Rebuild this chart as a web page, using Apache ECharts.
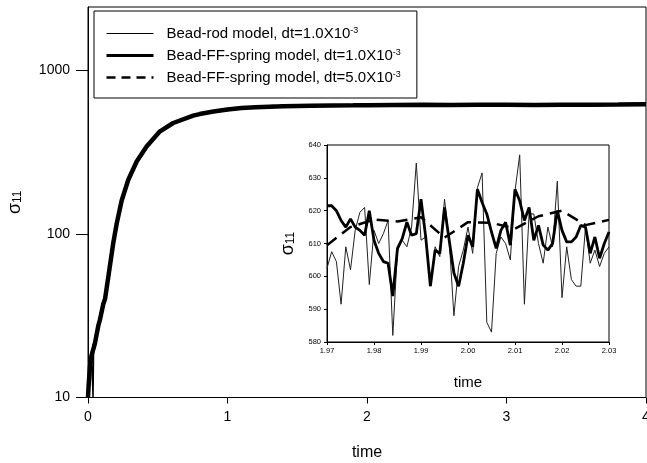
<!DOCTYPE html>
<html>
<head>
<meta charset="utf-8">
<script src="https://cdn.jsdelivr.net/npm/echarts@6/dist/echarts.min.js"></script>
<style>
  html, body { margin: 0; padding: 0; background: #fff; }
  #chart { width: 647px; height: 463px; }
</style>
</head>
<body>
<div id="chart"></div>
<script>
// series names (legend text)
var seriesNames = [
  'Bead-rod model, dt=1.0X10-3',
  'Bead-FF-spring model, dt=1.0X10-3',
  'Bead-FF-spring model, dt=5.0X10-3'
]

// main plot: time vs sigma11 (log axis)
var mainTime = [0, 0.005, 0.014, 0.025, 0.032, 0.036, 0.04, 0.05, 0.074, 0.086, 0.11, 0.122, 0.146, 0.181, 0.205, 0.241,
  0.289, 0.349, 0.42, 0.516, 0.611, 0.754, 0.8, 0.9, 1.0, 1.1, 1.2, 1.3, 1.4, 1.5, 1.6, 1.75,
  1.9, 2.0, 2.2, 2.4, 2.6, 2.8, 3.0, 3.2, 3.4, 3.6, 3.8, 4.0]
var mainRod = [10, 13, 16, 17, 13, 10, 19, 22, 28, 31, 38, 41, 56, 87, 116, 158,
  217, 276, 345, 423, 480, 528, 545, 560, 580, 588, 598, 604, 605, 610, 609, 613,
  612, 615, 616, 619, 616, 620, 617, 618, 618, 619, 619, 624]
var mainFF1 = [10, 12, 15.4, 18, 19, 19.3, 20, 21.5, 27.5, 30, 37.5, 40, 55, 88, 115, 160,
  215, 278, 343, 425, 478, 530, 542, 562, 578, 590, 597, 602, 606, 608, 610, 612,
  613, 614, 617, 618, 617, 619, 618, 617, 619, 618, 620, 623]
var mainFF5 = [10, 12.5, 15, 18, 19, 19.5, 20.5, 21, 27, 30.5, 37, 40.5, 54, 89, 114, 161,
  214, 279, 341, 426, 476, 532, 540, 563, 577, 591, 596, 603, 607, 607, 611, 611,
  614, 613, 618, 617, 618, 618, 619, 616, 620, 617, 621, 622]
var mainYTicks = [10, 100, 1000]

// inset: 1.97 .. 2.03
var insetStart = 1.97
var rodStep = 0.001
var ff5Step = 0.005
var insetRod = [602.5, 607.5, 604.5, 591.5, 609, 602, 614, 619.5, 621, 597.5,
  614, 610, 613, 617, 582, 608, 611, 609, 615, 634.5,
  611, 612, 597, 609, 606, 623.5, 611, 588, 603, 608,
  615, 607, 627, 631.5, 586, 583, 607, 612, 610, 605,
  626, 637, 591.5, 619, 619, 610, 604, 615, 609, 629,
  593.5, 609, 599, 597, 597, 615, 604, 608, 603, 607, 609]
var insetFF1 = [621.5, 621.5, 620, 617, 615, 617.5, 615, 614, 612.5, 620,
  611, 607, 604.5, 604, 594, 608.5, 611.5, 616.5, 612.5, 613,
  623.5, 612, 597, 608, 607, 621, 611, 601, 597, 604,
  612.5, 609, 626.5, 622.5, 619, 613.5, 608.5, 614, 616.5, 609.5,
  626.5, 623, 617, 621, 611, 615.5, 609.5, 608, 610, 620,
  614, 610.5, 610.5, 612, 615.5, 615, 607, 612, 605.5, 610, 613.5]
var insetFF5 = [609.5, 615, 617.3, 616.7, 618, 611.8, 616.5, 616.3, 614.5, 618.3, 620, 615.6, 617.2]

function pairs(xs, ys) {
  return ys.map(function(v, i) { return [xs[i], v] })
}
function stepPairs(start, step, ys) {
  return ys.map(function(v, i) { return [+(start + i * step).toFixed(3), v] })
}

var chart = echarts.init(document.getElementById('chart'), null, { renderer: 'canvas' })

var axisLine = { lineStyle: { color: '#000', width: 1 } }
var sigmaName = '{s|σ}{b|11}'
var sigmaRich = {
  s: { fontSize: 18, color: '#000', fontFamily: 'Liberation Sans' },
  b: { fontSize: 12, color: '#000', fontFamily: 'Liberation Sans', verticalAlign: 'bottom', padding: [6, 0, 0, 0] }
}
var noSymbol = { opacity: 0 }

chart.setOption({
  animation: false,
  color: ['#000'],
  textStyle: { fontFamily: 'Liberation Sans, Arial, sans-serif', color: '#000' },
  legend: {
    left: 94,
    top: 11,
    orient: 'vertical',
    itemWidth: 47,
    itemHeight: 14,
    itemGap: 7,
    padding: [15, 16, 13, 11],
    borderColor: '#000',
    borderWidth: 1,
    backgroundColor: '#fff',
    textStyle: {
      fontSize: 15,
      color: '#000',
      padding: [0, 0, 0, 8],
      rich: {
        sup: { fontSize: 9, color: '#000', verticalAlign: 'top' }
      }
    },
    formatter: function(name) {
      return name.replace(/X10(-\d)$/, 'X10{sup|$1}')
    },
    data: [
      { name: seriesNames[0], itemStyle: noSymbol, lineStyle: { color: '#000', width: 1, type: 'solid' } },
      { name: seriesNames[1], itemStyle: noSymbol, lineStyle: { color: '#000', width: 3, type: 'solid' } },
      { name: seriesNames[2], itemStyle: noSymbol, lineStyle: { color: '#000', width: 2.5, type: [9, 6] } }
    ]
  },
  grid: [
    {
      left: 88, top: 7, width: 558, height: 390.5,
      show: true, borderColor: '#000', borderWidth: 1,
      containLabel: false, outerBoundsMode: 'none'
    },
    {
      left: 327, top: 145, width: 282, height: 197,
      show: true, borderColor: '#000', borderWidth: 1, backgroundColor: '#fff',
      containLabel: false, outerBoundsMode: 'none'
    }
  ],
  xAxis: [
    {
      gridIndex: 0,
      type: 'value',
      min: 0,
      max: 4,
      interval: 1,
      axisLine: axisLine,
      axisTick: { inside: false, length: 6, lineStyle: { color: '#000' } },
      axisLabel: { fontSize: 14, margin: 13, color: '#000' },
      splitLine: { show: false },
      name: 'time',
      nameLocation: 'middle',
      nameGap: 47,
      nameTextStyle: { fontSize: 16, color: '#000' }
    },
    {
      gridIndex: 1,
      type: 'value',
      min: 1.97,
      max: 2.03,
      interval: 0.01,
      axisLine: axisLine,
      axisTick: { inside: false, length: 3, lineStyle: { color: '#000' } },
      axisLabel: {
        fontSize: 7.5,
        margin: 5,
        color: '#000',
        formatter: function(v) { return v.toFixed(2) }
      },
      splitLine: { show: false },
      name: 'time',
      nameLocation: 'middle',
      nameGap: 33,
      nameTextStyle: { fontSize: 15, color: '#000' }
    }
  ],
  yAxis: [
    {
      gridIndex: 0,
      type: 'log',
      logBase: 10,
      min: 10,
      max: 2450,
      axisLine: axisLine,
      axisTick: { inside: false, length: 12, customValues: mainYTicks, lineStyle: { color: '#000' } },
      axisLabel: {
        fontSize: 14,
        margin: 18,
        color: '#000',
        customValues: mainYTicks,
        formatter: function(v) { return String(Math.round(v)) }
      },
      splitLine: { show: false },
      minorTick: { show: false },
      name: sigmaName,
      nameLocation: 'middle',
      nameRotate: 90,
      nameGap: 64,
      nameTextStyle: { rich: sigmaRich }
    },
    {
      gridIndex: 1,
      type: 'value',
      min: 580,
      max: 640,
      interval: 10,
      axisLine: axisLine,
      axisTick: { inside: false, length: 3, lineStyle: { color: '#000' } },
      axisLabel: { fontSize: 7.5, margin: 6, color: '#000' },
      splitLine: { show: false },
      name: sigmaName,
      nameLocation: 'middle',
      nameRotate: 90,
      nameGap: 30,
      nameTextStyle: { rich: sigmaRich }
    }
  ],
  series: [
    {
      name: seriesNames[0], type: 'line', xAxisIndex: 0, yAxisIndex: 0, showSymbol: false,
      itemStyle: { color: '#000' },
      lineStyle: { color: '#000', width: 1.5 },
      data: pairs(mainTime, mainRod)
    },
    {
      name: seriesNames[1], type: 'line', xAxisIndex: 0, yAxisIndex: 0, showSymbol: false,
      itemStyle: { color: '#000' },
      lineStyle: { color: '#000', width: 4.5 },
      data: pairs(mainTime, mainFF1)
    },
    {
      name: seriesNames[2], type: 'line', xAxisIndex: 0, yAxisIndex: 0, showSymbol: false,
      itemStyle: { color: '#000' },
      lineStyle: { color: '#000', width: 3, type: [9, 6] },
      data: pairs(mainTime, mainFF5)
    },
    {
      name: seriesNames[0], type: 'line', xAxisIndex: 1, yAxisIndex: 1, showSymbol: false,
      itemStyle: { color: '#000' },
      lineStyle: { color: '#222', width: 1 },
      data: stepPairs(insetStart, rodStep, insetRod)
    },
    {
      name: seriesNames[2], type: 'line', xAxisIndex: 1, yAxisIndex: 1, showSymbol: false,
      itemStyle: { color: '#000' },
      lineStyle: { color: '#000', width: 2.5, type: [12, 7] },
      data: stepPairs(insetStart, ff5Step, insetFF5)
    },
    {
      name: seriesNames[1], type: 'line', xAxisIndex: 1, yAxisIndex: 1, showSymbol: false,
      itemStyle: { color: '#000' },
      lineStyle: { color: '#000', width: 2.8 },
      data: stepPairs(insetStart, rodStep, insetFF1)
    }
  ]
})
</script>
</body>
</html>
